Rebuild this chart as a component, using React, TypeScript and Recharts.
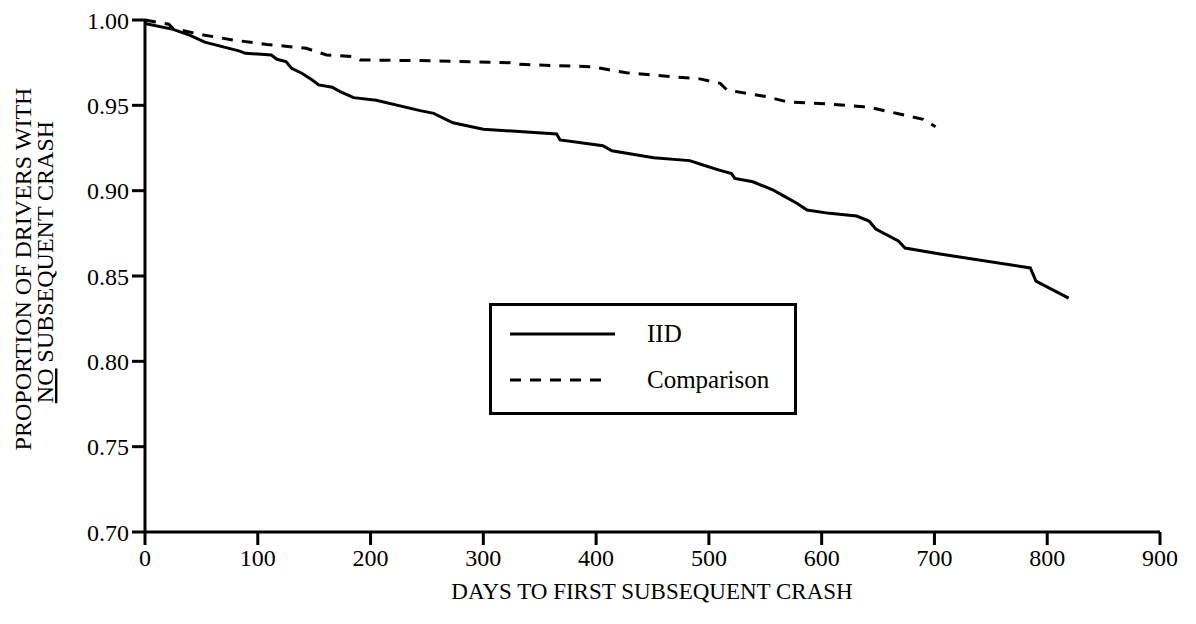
import React from 'react';
import { LineChart, Line, XAxis, YAxis, Legend } from 'recharts';

const iidDays = [0, 25, 40, 53, 84, 89, 112, 117, 125, 130, 139, 148, 154, 166, 173, 185, 205, 244, 256, 273, 300, 365, 368, 406, 414, 451, 483, 492, 507, 520, 523, 539, 557, 565, 578, 587, 607, 631, 642, 648, 668, 674, 705, 785, 790, 819];
const iidValues = [0.998, 0.9945, 0.991, 0.987, 0.9818, 0.9805, 0.9795, 0.977, 0.9756, 0.9717, 0.9688, 0.965, 0.962, 0.9606, 0.958, 0.9545, 0.953, 0.9469, 0.9453, 0.9398, 0.936, 0.9332, 0.9297, 0.9263, 0.9234, 0.9193, 0.9176, 0.9156, 0.9125, 0.91, 0.9072, 0.9052, 0.9004, 0.8974, 0.8926, 0.8887, 0.8867, 0.8851, 0.8822, 0.8775, 0.8705, 0.8664, 0.8629, 0.8547, 0.847, 0.837];

const comparisonDays = [0, 21, 25, 52, 78, 108, 143, 161, 185, 191, 244, 324, 332, 397, 409, 427, 468, 492, 510, 516, 551, 569, 610, 637, 646, 669, 690, 701];
const comparisonValues = [1.0, 0.9975, 0.995, 0.9912, 0.9883, 0.9857, 0.9834, 0.9795, 0.9785, 0.9766, 0.9762, 0.975, 0.974, 0.9726, 0.9711, 0.9691, 0.9668, 0.9655, 0.9629, 0.959, 0.9551, 0.9521, 0.9506, 0.9492, 0.9483, 0.9449, 0.9418, 0.9375];

const xTicks = [0, 100, 200, 300, 400, 500, 600, 700, 800, 900];
const yTicks = [0.7, 0.75, 0.8, 0.85, 0.9, 0.95, 1.0];
const seriesNames = ['IID', 'Comparison'];
const xAxisTitle = 'DAYS TO FIRST SUBSEQUENT CRASH';
const yAxisTitleLine1 = 'PROPORTION OF DRIVERS WITH';
const yAxisTitleLine2Underlined = 'NO';
const yAxisTitleLine2Rest = ' SUBSEQUENT CRASH';

const iidData = iidDays.map((d, i) => ({ day: d, value: iidValues[i] }));
const comparisonData = comparisonDays.map((d, i) => ({ day: d, value: comparisonValues[i] }));

const FONT = '"Liberation Serif", "Times New Roman", serif';

const LegendBox = (props: any) => {
  const payload = [...(props.payload || [])].sort(
    (a: any, b: any) => seriesNames.indexOf(a.value) - seriesNames.indexOf(b.value)
  );
  return (
    <svg width={308} height={112} style={{ display: 'block' }}>
      <rect x={1.5} y={1.5} width={305} height={109} fill="#fff" stroke="#000" strokeWidth={3} />
      {payload.map((entry: any, i: number) => {
        const cy = i === 0 ? 31 : 77;
        const dash = entry.payload?.strokeDasharray;
        return (
          <g key={i}>
            <line x1={21} x2={dash ? 118 : 126} y1={cy} y2={cy} stroke="#000" strokeWidth={3} strokeDasharray={dash} />
            <text x={158} y={cy + 8} fontFamily={FONT} fontSize={25} fill="#000">{entry.value}</text>
          </g>
        );
      })}
    </svg>
  );
};

const YTitle = () => (
  <g fontFamily={FONT} fontSize={24} fill="#000">
    <text x={0} y={0} transform="translate(23,261) rotate(-90)" textAnchor="middle">{yAxisTitleLine1}</text>
    <text x={0} y={0} transform="translate(45,254) rotate(-90)" textAnchor="middle">
      <tspan style={{ textDecoration: 'underline' }}>{yAxisTitleLine2Underlined}</tspan>
      <tspan>{yAxisTitleLine2Rest}</tspan>
    </text>
  </g>
);

const XTitle = () => (
  <text x={644} y={591} textAnchor="middle" fontFamily={FONT} fontSize={23} fill="#000">{xAxisTitle}</text>
);

export default function App() {
  return (
    <div style={{ width: 1188, height: 608, position: 'relative' }}>
      <LineChart width={1188} height={608} margin={{ top: 12, right: 36, left: 77, bottom: 54 }}>
        <XAxis
          type="number"
          dataKey="day"
          domain={[0, 900]}
          ticks={xTicks}
          interval={0}
          height={30}
          tickSize={13}
          tickMargin={4}
          axisLine={{ stroke: '#000', strokeWidth: 3 }}
          tickLine={{ stroke: '#000', strokeWidth: 3 }}
          tick={{ fill: '#000', fontSize: 24, fontFamily: FONT }}
          label={{ content: () => <XTitle /> }}
          allowDuplicatedCategory={false}
        />
        <YAxis
          type="number"
          domain={[0.7, 1.0]}
          ticks={yTicks}
          interval={0}
          width={60}
          tickSize={13}
          tickMargin={3}
          tickFormatter={(v: number) => v.toFixed(2)}
          axisLine={{ stroke: '#000', strokeWidth: 3 }}
          tickLine={{ stroke: '#000', strokeWidth: 3 }}
          tick={{ fill: '#000', fontSize: 24, fontFamily: FONT }}
          label={{ content: () => <YTitle /> }}
        />
        <Legend
          layout="vertical"
          align="center"
          verticalAlign="middle"
          itemSorter={null as any}
          content={<LegendBox />}
          wrapperStyle={{ left: 481, top: 295, width: 308, height: 112 }}
        />
        <Line
          data={iidData}
          dataKey="value"
          name={seriesNames[0]}
          type="linear"
          stroke="#000"
          strokeWidth={3}
          dot={false}
          isAnimationActive={false}
        />
        <Line
          data={comparisonData}
          dataKey="value"
          name={seriesNames[1]}
          type="linear"
          stroke="#000"
          strokeWidth={3}
          strokeDasharray="11 9"
          dot={false}
          isAnimationActive={false}
        />
      </LineChart>
    </div>
  );
}
